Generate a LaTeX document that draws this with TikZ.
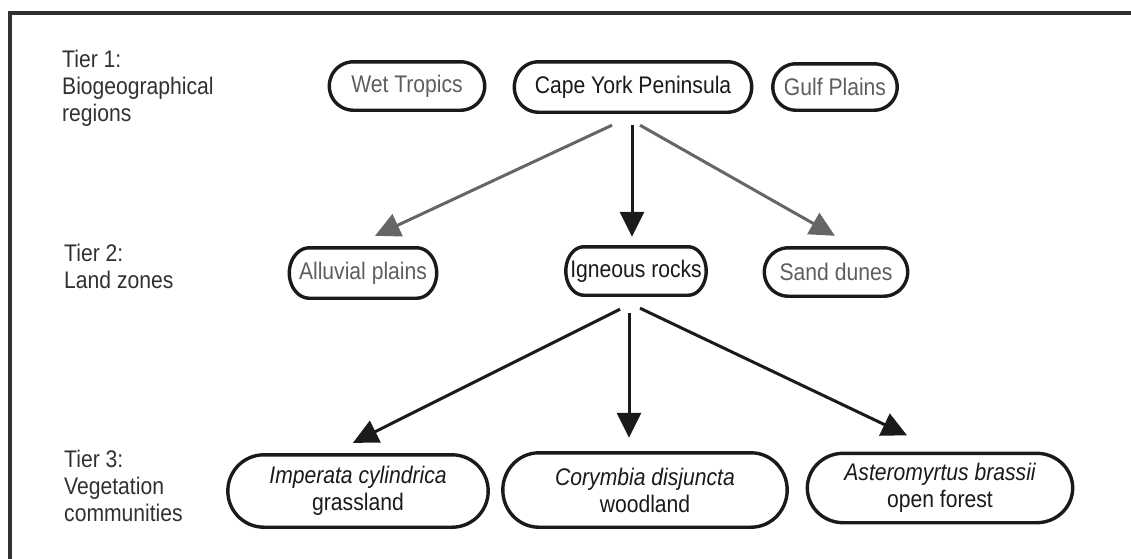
\documentclass[tikz,border=0pt]{standalone}
\usepackage{fontspec}
\setmainfont{Liberation Sans}[FakeStretch=0.88]
\usetikzlibrary{arrows.meta,calc}
\definecolor{txtgray}{HTML}{5E5E5E}
\definecolor{argray}{HTML}{666666}
\definecolor{ink}{HTML}{1A1A1A}
\tikzset{
  oval/.style={draw=none, inner sep=0pt, align=center, font=\fontsize{24}{27}\selectfont},
  ovline/.style={draw=ink, line width=3.4pt, line join=round},
  tierlbl/.style={anchor=west, align=left, inner sep=0pt, text=ink!90,
    font=\fontsize{24}{27}\selectfont},
  barr/.style={draw=ink, line width=3pt, -{Triangle[length=25pt,width=24pt]}},
  garr/.style={draw=argray, line width=3pt, -{Triangle[length=25pt,width=24pt]}},
}
% outline (polyline) of a stadium with elliptical ends around node #1, end x-radius #2 (pt)
\newcommand\stadoutline[2]{%
  \draw[ovline] let \p1=(#1.north west), \p2=(#1.south east),
      \n1={(\y1-\y2)/2}, \n2={(\y1+\y2)/2} in
    plot[variable=\t, domain=90:-90, samples=31] ({\x2-#2pt+#2pt*cos(\t)}, {\n2+\n1*sin(\t)})
    -- plot[variable=\t, domain=270:90, samples=31] ({\x1+#2pt+#2pt*cos(\t)}, {\n2+\n1*sin(\t)})
    -- cycle;}
\begin{document}
\begin{tikzpicture}[x=1pt,y=-1pt]
\useasboundingbox (0,0) rectangle (1131,558);
\fill[white] (0,0) rectangle (1131,558);
\begin{scope}
\clip (0,0) rectangle (1131,558);
\draw[draw=ink!90, line width=3.4pt] (10,600) -- (10,13) -- (1200,13);
\end{scope}

% tier labels
\node[tierlbl] (t1) at (62,88) {Tier 1:\\Biogeographical\\regions};
\node[tierlbl] (t2) at (64,266) {Tier 2:\\Land zones};
\node[tierlbl] (t3) at (64,486) {Tier 3:\\Vegetation\\communities};

% tier 1
\node[oval, minimum width=155pt, minimum height=48pt, text=txtgray] (wet) at (407,86) {Wet Tropics};
\node[oval, minimum width=237pt, minimum height=50pt, text=ink] (cape) at (633,87) {Cape York Peninsula};
\node[oval, minimum width=124pt, minimum height=46pt, text=txtgray] (gulf) at (835,87) {Gulf Plains};
\stadoutline{wet}{24}
\stadoutline{cape}{24}
\stadoutline{gulf}{23}

% tier 2
\node[oval, minimum width=147pt, minimum height=50pt, text=txtgray] (allu) at (363,273) {Alluvial plains};
\node[oval, minimum width=140pt, minimum height=48pt, text=ink] (ign) at (636,271) {Igneous rocks};
\node[oval, minimum width=143pt, minimum height=48pt, text=txtgray] (sand) at (836,272) {Sand dunes};
\stadoutline{allu}{20}
\stadoutline{ign}{18}
\stadoutline{sand}{24}

% tier 3
\node[oval, minimum width=260pt, minimum height=72pt, text=ink] (imp) at (358,491) {\itshape Imperata cylindrica\\grassland};
\node[oval, minimum width=284pt, minimum height=74pt, text=ink] (cor) at (645,490) {\itshape Corymbia disjuncta\\woodland};
\node[oval, minimum width=265pt, minimum height=69pt, text=ink] (ast) at (940,488) {\itshape Asteromyrtus brassii\\open forest};
\stadoutline{imp}{36}
\stadoutline{cor}{36}
\stadoutline{ast}{36}

% arrows tier 1 -> 2
\draw[garr] ($(cape.south)+(-21,13)$) -- ($(allu.north)+(12,-12)$);
\draw[barr] ($(cape.south)+(-1,13)$) -- ($(ign.north)+(-4,-10)$);
\draw[garr] ($(cape.south)+(7,13)$) -- ($(sand.north)+(-1,-12)$);

% arrows tier 2 -> 3
\draw[barr] ($(ign.south)+(-16,14)$) -- ($(imp.north)+(-5,-12)$);
\draw[barr] ($(ign.south)+(-7,18)$) -- ($(cor.north)+(-16,-15)$);
\draw[barr] ($(ign.south)+(4,13)$) -- ($(ast.north)+(-33,-18)$);
\end{tikzpicture}
\end{document}
